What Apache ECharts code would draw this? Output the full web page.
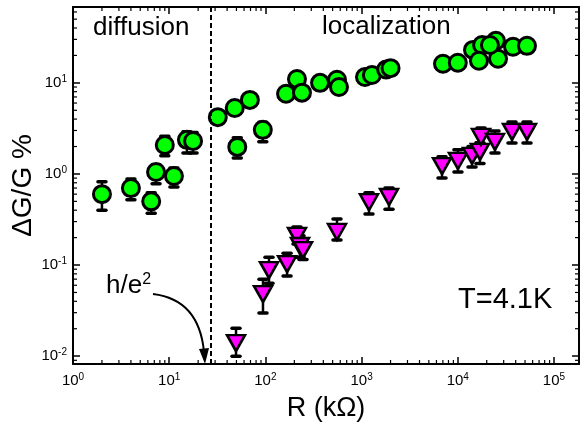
<!DOCTYPE html>
<html>
<head>
<meta charset="utf-8">
<script src="https://cdn.jsdelivr.net/npm/echarts@6/dist/echarts.min.js"></script>
<style>
html, body { margin: 0; padding: 0; background: #fff; }
#chart { width: 584px; height: 430px; }
</style>
</head>
<body>
<div id="chart"></div>
<script>
// R in kOhm, dG/G in %
const greenR  = [2.0, 4.0, 6.5, 7.3, 11.2, 9.0, 15.3, 17.7, 32, 48, 69, 94, 51, 164, 213, 240, 370, 555, 582, 1085, 1280, 1800, 2000, 7020, 10000, 14400, 17900, 16600, 24900, 26200, 37500, 52400, 21600];
const greenG  = [0.60, 0.70, 0.50, 1.05, 0.95, 2.08, 2.37, 2.3, 4.2, 5.3, 6.5, 3.05, 1.98, 7.6, 11, 7.8, 10, 10.8, 9.0, 11.6, 12.2, 14.0, 14.5, 16.2, 16.6, 23, 26, 17.5, 29, 18.4, 24.9, 25.5, 26];
const greenLo = [0.40, 0.52, 0.37, 0.78, 0.72, 1.58, 1.70, 1.70, null, null, null, 2.25, 1.5, null, null, null, null, null, null, null, null, null, null, null, null, null, null, null, null, null, null, null, null];
const greenHi = [0.82, 0.88, 0.62, 1.26, 1.16, 2.6, 2.9, 2.85, null, null, null, 3.7, 2.5, null, null, null, null, null, null, null, null, null, null, null, null, null, null, null, null, null, null, null, null];

const magR  = [49.5, 94.4, 109, 168, 213, 229, 246, 555, 1194, 1928, 6855, 10040, 14060, 17000, 17430, 24360, 36600, 52400];
const magG  = [0.0139, 0.048, 0.088, 0.1025, 0.209, 0.162, 0.146, 0.231, 0.49, 0.558, 1.22, 1.39, 1.58, 1.75, 2.55, 2.25, 2.9, 2.9];
const magLo = [0.0100, 0.0297, 0.063, 0.0757, 0.17, 0.122, 0.115, 0.188, 0.363, 0.41, 0.90, 1.05, 1.19, 1.3, 2.0, 1.70, 2.19, 2.19];
const magHi = [0.0203, 0.070, 0.122, 0.135, 0.262, 0.21, 0.19, 0.32, 0.62, 0.70, 1.54, 1.84, 2.0, 2.2, 3.2, 2.97, 3.72, 3.72];

const hOverE2 = 27;
const xMin = 1, xMax = 182000;
const yMin = 0.0082, yMax = 68;
const xDecades = [1, 10, 100, 1000, 10000, 100000];
const yDecades = [0.001, 0.01, 0.1, 1, 10];
const minorSteps = [2, 3, 4, 5, 6, 7, 8, 9];

const FONT = "'Liberation Sans', Arial, sans-serif";

const xMinor = [];
xDecades.forEach(d => minorSteps.forEach(m => { if (d * m > xMin && d * m < xMax) xMinor.push([d * m, 1]); }));
const yMinor = [];
yDecades.forEach(d => minorSteps.forEach(m => { if (d * m > yMin && d * m < yMax) yMinor.push([10, d * m]); }));

const pairs = (xs, ys) => xs.map((x, i) => [x, ys[i]]);
const errs = (xs, lo, hi) => xs.map((x, i) => [x, lo[i], hi[i]]).filter(d => d[1] != null);

const powLabel = v => {
  const l = Math.log10(v);
  const e = Math.round(l);
  if (Math.abs(l - e) > 1e-6) return '';
  return '{b|10}{s|' + e + '}';
};
const labelRich = {
  b: { fontSize: 15, fontFamily: FONT, color: '#000', lineHeight: 18 },
  s: { fontSize: 10, fontFamily: FONT, color: '#000', lineHeight: 10, verticalAlign: 'top' }
};

const axisBase = {
  type: 'log',
  logBase: 10,
  axisLine: { show: true, onZero: false, lineStyle: { color: '#000', width: 2 } },
  axisTick: { show: true, inside: true, length: 7, lineStyle: { color: '#000', width: 1.5 } },
  minorTick: { show: false },
  splitLine: { show: false }
};

function errorBar(params, api) {
  const top = api.coord([api.value(0), api.value(2)]);
  const bot = api.coord([api.value(0), api.value(1)]);
  const w = 4;
  const st = { stroke: '#000', lineWidth: 2.5 };
  const cap = { stroke: '#000', lineWidth: 3.5, lineCap: 'round' };
  return {
    type: 'group',
    children: [
      { type: 'line', shape: { x1: top[0], y1: top[1], x2: bot[0], y2: bot[1] }, style: st },
      { type: 'line', shape: { x1: top[0] - w, y1: top[1], x2: top[0] + w, y2: top[1] }, style: cap },
      { type: 'line', shape: { x1: bot[0] - w, y1: bot[1], x2: bot[0] + w, y2: bot[1] }, style: cap }
    ]
  };
}

function xMinorTick(params, api) {
  const cs = params.coordSys;
  const p = api.coord([api.value(0), api.value(1)]);
  const st = { stroke: '#000', lineWidth: 1.2 };
  return {
    type: 'group',
    children: [
      { type: 'line', shape: { x1: p[0], y1: cs.y + cs.height, x2: p[0], y2: cs.y + cs.height - 4 }, style: st },
      { type: 'line', shape: { x1: p[0], y1: cs.y, x2: p[0], y2: cs.y + 4 }, style: st }
    ]
  };
}

function yMinorTick(params, api) {
  const cs = params.coordSys;
  const p = api.coord([api.value(0), api.value(1)]);
  const st = { stroke: '#000', lineWidth: 1.2 };
  return {
    type: 'group',
    children: [
      { type: 'line', shape: { x1: cs.x, y1: p[1], x2: cs.x + 4, y2: p[1] }, style: st },
      { type: 'line', shape: { x1: cs.x + cs.width, y1: p[1], x2: cs.x + cs.width - 4, y2: p[1] }, style: st }
    ]
  };
}

const chart = echarts.init(document.getElementById('chart'), null, { renderer: 'canvas' });

const option = {
  backgroundColor: '#fff',
  animation: false,
  grid: { left: 73, right: 5, top: 7, bottom: 66, containLabel: false, outerBoundsMode: 'none' },
  xAxis: [
    Object.assign({}, axisBase, {
      position: 'bottom', min: xMin, max: xMax, interval: 1,
      axisLabel: { formatter: powLabel, rich: labelRich, margin: 8 },
      name: 'R (kΩ)', nameLocation: 'middle', nameGap: 31, nameMoveOverlap: false,
      nameTextStyle: { fontSize: 27, fontFamily: FONT, color: '#000' }
    }),
    Object.assign({}, axisBase, {
      position: 'top', min: xMin, max: xMax, interval: 1, axisLabel: { show: false }
    })
  ],
  yAxis: [
    Object.assign({}, axisBase, {
      position: 'left', min: yMin, max: yMax, splitNumber: 4,
      axisLabel: { formatter: powLabel, rich: labelRich, margin: 6 },
      name: 'ΔG/G %', nameLocation: 'middle', nameGap: 36, nameMoveOverlap: false,
      nameTextStyle: { fontSize: 28, fontFamily: FONT, color: '#000' }
    }),
    Object.assign({}, axisBase, {
      position: 'right', min: yMin, max: yMax, splitNumber: 4, axisLabel: { show: false }
    })
  ],
  series: [
    { type: 'custom', renderItem: xMinorTick, data: xMinor, silent: true, clip: false, z: 1 },
    { type: 'custom', renderItem: yMinorTick, data: yMinor, silent: true, clip: false, z: 1 },
    {
      type: 'custom', renderItem: errorBar, data: errs(greenR, greenLo, greenHi),
      encode: { x: 0, y: [1, 2] }, silent: true, z: 2
    },
    {
      type: 'custom', renderItem: errorBar, data: errs(magR, magLo, magHi),
      encode: { x: 0, y: [1, 2] }, silent: true, z: 2
    },
    {
      name: 'diffusion', type: 'scatter', data: pairs(greenR, greenG),
      symbol: 'circle', symbolSize: 17, z: 3,
      itemStyle: { color: '#00ff00', borderColor: '#000', borderWidth: 3, opacity: 1 },
      markLine: {
        silent: true, symbol: ['none', 'none'], label: { show: false },
        lineStyle: { color: '#000', width: 2, type: [5, 3] },
        data: [{ xAxis: hOverE2 }]
      }
    },
    {
      name: 'localization', type: 'scatter', data: pairs(magR, magG),
      symbol: 'triangle', symbolRotate: 180, symbolSize: [18, 16], z: 3,
      itemStyle: { color: '#ff00ff', borderColor: '#000', borderWidth: 2.5, opacity: 1 }
    }
  ],
  graphic: [
    { type: 'text', x: 93, y: 28, style: { text: 'diffusion', fontSize: 26, fontFamily: FONT, fill: '#000', align: 'left', verticalAlign: 'middle' } },
    { type: 'text', x: 322, y: 27, style: { text: 'localization', fontSize: 26, fontFamily: FONT, fill: '#000', align: 'left', verticalAlign: 'middle' } },
    { type: 'text', x: 458, y: 300, style: { text: 'T=4.1K', fontSize: 29, fontFamily: FONT, fill: '#000', align: 'left', verticalAlign: 'middle' } },
    {
      type: 'text', x: 106, y: 286,
      style: {
        text: '{a|h/e}{b|2}', align: 'left', verticalAlign: 'middle',
        rich: {
          a: { fontSize: 26, fontFamily: FONT, color: '#000', lineHeight: 28 },
          b: { fontSize: 16, fontFamily: FONT, color: '#000', lineHeight: 14, verticalAlign: 'top' }
        }
      }
    },
    {
      type: 'bezierCurve',
      shape: { x1: 153, y1: 294, cpx1: 186, cpy1: 298, cpx2: 201, cpy2: 320, x2: 204, y2: 352 },
      style: { stroke: '#000', lineWidth: 2, fill: null }
    },
    {
      type: 'polygon',
      shape: { points: [[205, 364], [199, 349], [209, 348]] },
      style: { fill: '#000' }
    }
  ]
};

chart.setOption(option);
</script>
</body>
</html>
